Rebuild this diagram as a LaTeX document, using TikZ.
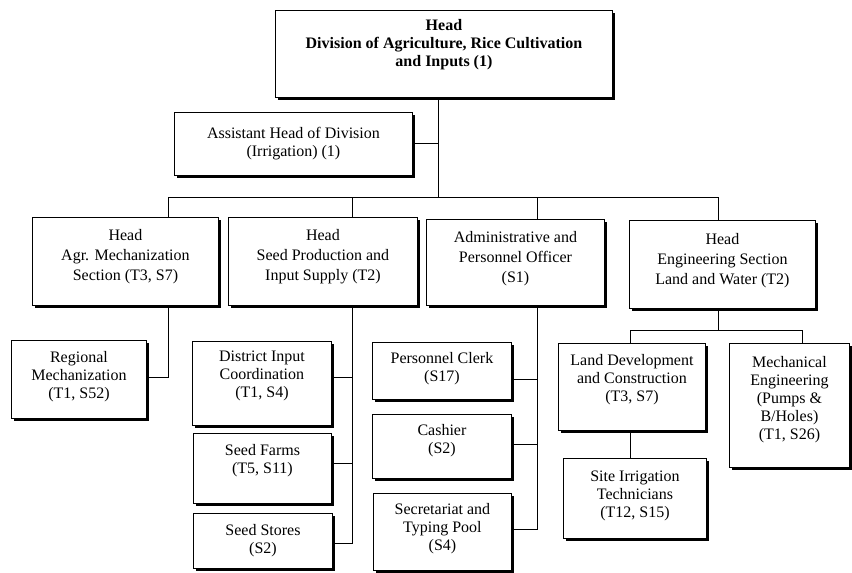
\documentclass[tikz,border=0pt]{standalone}
\usepackage{fontspec}
\setmainfont{Liberation Serif}
\usetikzlibrary{shadows}
\begin{document}
\begin{tikzpicture}[x=1pt,y=-1pt,
  box/.style={draw, line width=0.9pt, fill=white, align=center, inner sep=0pt,
    anchor=north west, font=\fontsize{16}{18}\selectfont,
    drop shadow={shadow xshift=2.4pt, shadow yshift=-2.4pt, opacity=1, fill=black}},
  wide/.style={font=\fontsize{16}{20}\selectfont},
  link/.style={line width=1pt}]
\useasboundingbox[fill=white] (0,0) rectangle (852,573);

\node[box, minimum width=337pt, minimum height=87pt, text depth=22pt] (head) at (275,10)
  {\textbf{Head}\\\textbf{Division of Agriculture, Rice Cultivation}\\\textbf{and Inputs (1)}};
\node[box, minimum width=238pt, minimum height=63pt] (asst) at (174,112)
  {Assistant Head of Division\\(Irrigation) (1)};

\node[box, wide, minimum width=186pt, minimum height=88pt, text depth=14pt] (agr) at (32,217)
  {Head\\Agr. Mechanization\\Section (T3, S7)};
\node[box, wide, minimum width=189pt, minimum height=88pt, text depth=14pt] (seed) at (228,217)
  {Head\\Seed Production and\\Input Supply (T2)};
\node[box, wide, minimum width=178pt, minimum height=86pt, text depth=12pt] (admin) at (426,219)
  {Administrative and\\Personnel Officer\\(S1)};
\node[box, wide, minimum width=186pt, minimum height=88pt, text depth=12pt] (eng) at (629,220)
  {Head\\Engineering Section\\Land and Water (T2)};

\node[box, minimum width=135pt, minimum height=78pt, text depth=10pt] (reg) at (11,340)
  {Regional\\Mechanization\\(T1, S52)};
\node[box, minimum width=139pt, minimum height=84pt, text depth=18pt] (dist) at (192,341)
  {District Input\\Coordination\\(T1, S4)};
\node[box, minimum width=138pt, minimum height=70pt, text depth=20pt] (farms) at (193,433)
  {Seed Farms\\(T5, S11)};
\node[box, minimum width=139pt, minimum height=55pt] (stores) at (193,513)
  {Seed Stores\\(S2)};

\node[box, minimum width=139pt, minimum height=57pt, text depth=8pt] (pclerk) at (372,342)
  {Personnel Clerk\\(S17)};
\node[box, minimum width=139pt, minimum height=64pt, text depth=16pt] (cash) at (372,414)
  {Cashier\\(S2)};
\node[box, minimum width=138pt, minimum height=77pt, text depth=10pt] (secr) at (373,493)
  {Secretariat and\\Typing Pool\\(S4)};

\node[box, minimum width=147pt, minimum height=87pt, text depth=18pt] (land) at (558,343)
  {Land Development\\and Construction\\(T3, S7)};
\node[box, minimum width=120pt, minimum height=124pt, text depth=16pt] (mech) at (729,343)
  {Mechanical\\Engineering\\(Pumps \&\\B/Holes)\\(T1, S26)};
\node[box, minimum width=143pt, minimum height=80pt, text depth=8pt] (site) at (563,458)
  {Site Irrigation\\Technicians\\(T12, S15)};

% junction points
\coordinate (j0) at (438,197);
\coordinate (vA) at (168,197);
\coordinate (vB) at (352,197);
\coordinate (vC) at (537,197);
\coordinate (vD) at (718,197);
\coordinate (a1) at (168,377);
\coordinate (s1) at (352,377);
\coordinate (s2) at (352,463);
\coordinate (s3) at (352,543);
\coordinate (p1) at (537,379);
\coordinate (p2) at (537,444);
\coordinate (p3) at (537,529);
\coordinate (e0) at (718,330);
\coordinate (e1) at (630,330);
\coordinate (e2) at (802,330);

\draw[link] (head.south -| j0) -- (j0);
\draw[link] (asst.east) -- (asst.east -| j0);
\draw[link] (vA |- agr.north) -- (vA) -- (vD) -- (vD |- eng.north);
\draw[link] (vB) -- (vB |- seed.north);
\draw[link] (vC) -- (vC |- admin.north);

\draw[link] (vA |- agr.south) -- (a1) -- (a1 -| reg.east);

\draw[link] (vB |- seed.south) -- (s3) -- (s3 -| stores.east);
\draw[link] (s1) -- (s1 -| dist.east);
\draw[link] (s2) -- (s2 -| farms.east);

\draw[link] (vC |- admin.south) -- (p3) -- (p3 -| secr.east);
\draw[link] (p1) -- (p1 -| pclerk.east);
\draw[link] (p2) -- (p2 -| cash.east);

\draw[link] (vD |- eng.south) -- (e0);
\draw[link] (e1 |- land.north) -- (e1) -- (e2) -- (e2 |- mech.north);
\draw[link] (e1 |- land.south) -- (e1 |- site.north);
\end{tikzpicture}
\end{document}
